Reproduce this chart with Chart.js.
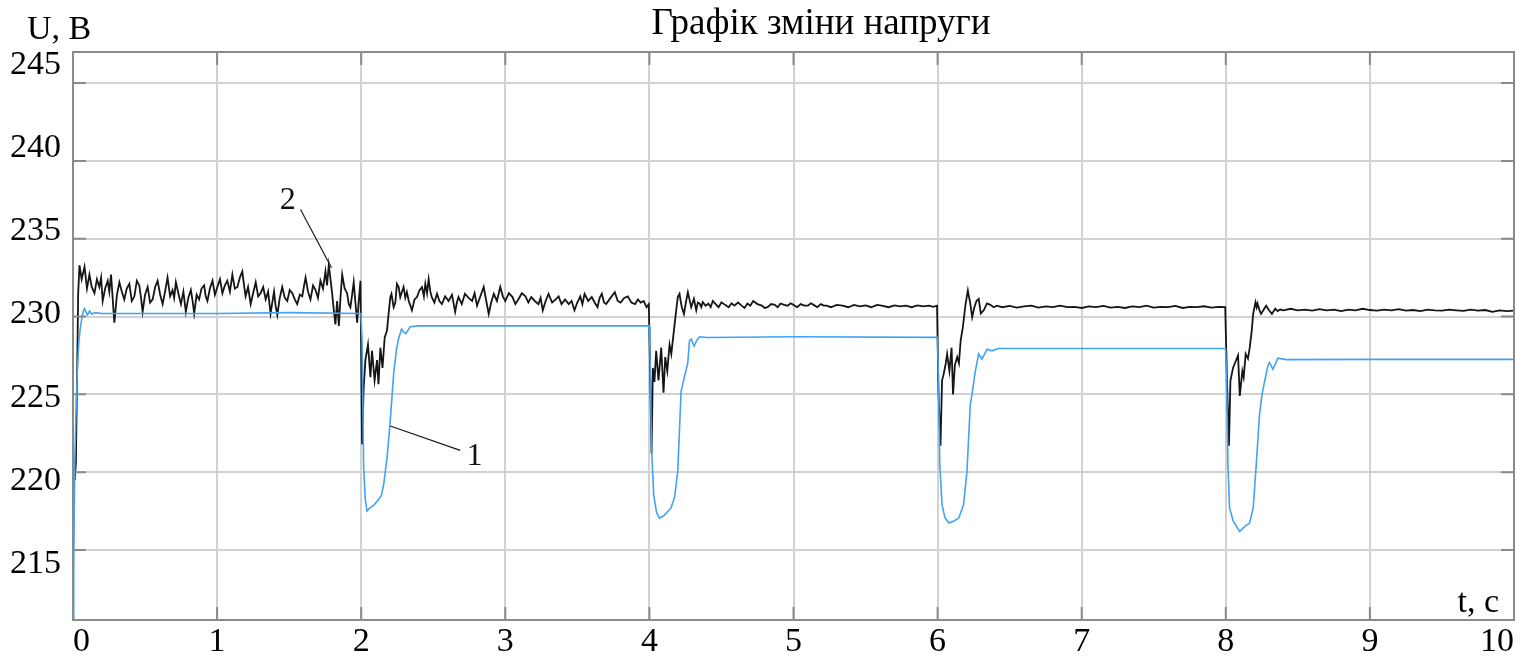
<!DOCTYPE html>
<html>
<head>
<meta charset="utf-8">
<title>Графік зміни напруги</title>
<script src="https://cdn.jsdelivr.net/npm/chart.js@4.4.0/dist/chart.umd.min.js"></script>
<style>
    html, body { margin: 0; padding: 0; background: #ffffff; }
    #wrap { width: 1516px; height: 661px; }
</style>
</head>
<body>
<div id="wrap"><canvas id="voltChart" width="1516" height="661"></canvas></div>
<script>
// Tick values of the axes
var xTicks = [0, 1, 2, 3, 4, 5, 6, 7, 8, 9, 10];
var yTicks = [215, 220, 225, 230, 235, 240, 245];

// Curve 1 (blue) - time, s
var timeBlue = [
    0, 0.005, 0.012, 0.02, 0.03, 0.04, 0.05, 0.06, 0.07, 0.08, 0.09, 0.1, 0.115, 0.13, 0.15, 0.2, 0.5, 1.0, 1.5, 1.998,
    2.006, 2.017, 2.028, 2.04, 2.06, 2.09, 2.12, 2.14, 2.156, 2.18, 2.2, 2.225, 2.245, 2.26, 2.28, 2.295, 2.31, 2.34, 2.4, 3.0, 3.998,
    4.004, 4.015, 4.03, 4.05, 4.07, 4.1, 4.13, 4.15, 4.175, 4.197, 4.22, 4.245, 4.266, 4.278, 4.29, 4.31, 4.33, 4.35, 4.4, 5.0, 5.998,
    6.004, 6.015, 6.031, 6.05, 6.077, 6.11, 6.147, 6.18, 6.204, 6.227, 6.239, 6.26, 6.285, 6.308, 6.343, 6.377, 6.42, 7.0, 7.998,
    8.004, 8.015, 8.026, 8.05, 8.075, 8.096, 8.13, 8.165, 8.19, 8.21, 8.234, 8.25, 8.27, 8.292, 8.303, 8.327, 8.361, 8.42, 9.0, 10
];
// Curve 1 (blue) - voltage, V
var voltBlue = [
    209, 214, 220.5, 223.5, 226.5, 228.3, 229.2, 229.8, 230.3, 230.5, 230.3, 230.1, 230.35, 230.15, 230.25, 230.2, 230.2, 230.2, 230.25, 230.2,
    228.5, 220.3, 218.3, 217.5, 217.7, 217.9, 218.25, 218.5, 219.2, 221.0, 223.1, 226.3, 227.9, 228.6, 229.2, 229.0, 228.9, 229.35, 229.4, 229.4, 229.4,
    228.0, 221.5, 218.5, 217.4, 217.05, 217.2, 217.5, 217.7, 218.4, 220.1, 225.2, 226.2, 227.0, 228.45, 228.55, 228.1, 228.5, 228.7, 228.65, 228.7, 228.66,
    227.0, 220.5, 217.9, 217.1, 216.73, 216.85, 217.05, 217.9, 220.06, 224.37, 225.0, 226.4, 227.6, 227.27, 227.9, 227.8, 227.95, 227.95, 227.95,
    226.5, 220.5, 217.7, 216.9, 216.5, 216.19, 216.5, 216.73, 217.7, 220.3, 223.7, 224.9, 225.87, 226.84, 227.05, 226.6, 227.33, 227.23, 227.25, 227.25
];

// Curve 2 (black) - time, s
var timeBlack = [
    // 0 .. 2
    0.012, 0.02, 0.028, 0.036, 0.045, 0.06, 0.08, 0.097, 0.114, 0.13,
    0.149, 0.166, 0.183, 0.195, 0.206, 0.223, 0.241, 0.252, 0.264, 0.275,
    0.287, 0.305, 0.322, 0.339, 0.356, 0.373, 0.391, 0.408, 0.426, 0.443,
    0.46, 0.472, 0.483, 0.5, 0.518, 0.535, 0.553, 0.57, 0.587, 0.605,
    0.622, 0.639, 0.656, 0.674, 0.691, 0.702, 0.714, 0.731, 0.749, 0.766,
    0.783, 0.8, 0.818, 0.83, 0.841, 0.858, 0.875, 0.892, 0.91, 0.921,
    0.933, 0.95, 0.968, 0.985, 1.002, 1.02, 1.037, 1.054, 1.071, 1.089,
    1.106, 1.123, 1.141, 1.158, 1.175, 1.187, 1.198, 1.215, 1.233, 1.25,
    1.268, 1.285, 1.302, 1.32, 1.337, 1.354, 1.371, 1.383, 1.395, 1.406,
    1.418, 1.435, 1.452, 1.47, 1.487, 1.504, 1.522, 1.539, 1.556, 1.574,
    1.591, 1.602, 1.614, 1.631, 1.648, 1.666, 1.683, 1.7, 1.717, 1.735,
    1.752, 1.763, 1.775, 1.787, 1.798, 1.81, 1.821, 1.833, 1.845, 1.856,
    1.868, 1.885, 1.902, 1.914, 1.925, 1.937, 1.948, 1.96, 1.972, 1.983,
    1.995,
    // 2 .. 4
    2.006, 2.017, 2.029, 2.047, 2.064, 2.075, 2.093, 2.11, 2.12, 2.133,
    2.148, 2.163, 2.179, 2.19, 2.202, 2.21, 2.225, 2.237, 2.248, 2.26,
    2.271, 2.283, 2.294, 2.306, 2.317, 2.33, 2.352, 2.37, 2.387, 2.405,
    2.422, 2.435, 2.445, 2.457, 2.468, 2.48, 2.49, 2.508, 2.526, 2.543,
    2.56, 2.583, 2.606, 2.63, 2.652, 2.664, 2.675, 2.698, 2.72, 2.745,
    2.77, 2.787, 2.804, 2.827, 2.85, 2.868, 2.885, 2.902, 2.92, 2.942,
    2.965, 2.983, 3.0, 3.025, 3.05, 3.07, 3.09, 3.115, 3.14, 3.16,
    3.18, 3.205, 3.23, 3.245, 3.26, 3.28, 3.3, 3.325, 3.35, 3.37,
    3.39, 3.415, 3.44, 3.46, 3.48, 3.5, 3.52, 3.535, 3.55, 3.575,
    3.6, 3.62, 3.64, 3.655, 3.67, 3.685, 3.7, 3.73, 3.76, 3.78,
    3.8, 3.825, 3.85, 3.875, 3.9, 3.92, 3.94, 3.96, 3.98, 3.996,
    // 4 .. 6
    4.005, 4.015, 4.024, 4.035, 4.047, 4.063, 4.082, 4.098, 4.11, 4.124,
    4.14, 4.152, 4.17, 4.186, 4.197, 4.209, 4.217, 4.225, 4.24, 4.255,
    4.267, 4.278, 4.29, 4.309, 4.325, 4.336, 4.348, 4.36, 4.37, 4.39,
    4.41, 4.425, 4.44, 4.46, 4.48, 4.5, 4.525, 4.55, 4.57, 4.59,
    4.615, 4.64, 4.66, 4.68, 4.7, 4.72, 4.75, 4.78, 4.8, 4.82,
    4.845, 4.87, 4.89, 4.91, 4.935, 4.96, 4.98, 5.0, 5.025, 5.05,
    5.075, 5.1, 5.12, 5.14, 5.165, 5.19, 5.21, 5.23, 5.26, 5.3,
    5.34, 5.38, 5.42, 5.46, 5.5, 5.54, 5.58, 5.62, 5.66, 5.7,
    5.74, 5.78, 5.82, 5.86, 5.9, 5.94, 5.97, 5.996,
    // 6 .. 8
    6.006, 6.02, 6.031, 6.042, 6.055, 6.066, 6.082, 6.097, 6.107, 6.12,
    6.136, 6.148, 6.16, 6.175, 6.194, 6.21, 6.217, 6.224, 6.232, 6.24,
    6.255, 6.27, 6.285, 6.3, 6.32, 6.343, 6.366, 6.39, 6.41, 6.45,
    6.5, 6.55, 6.6, 6.65, 6.7, 6.75, 6.8, 6.85, 6.9, 6.95,
    7.0, 7.05, 7.1, 7.15, 7.2, 7.25, 7.3, 7.35, 7.4, 7.45,
    7.5, 7.55, 7.6, 7.65, 7.7, 7.75, 7.8, 7.85, 7.9, 7.95,
    7.996,
    // 8 .. 10
    8.008, 8.022, 8.032, 8.05, 8.07, 8.085, 8.097, 8.115, 8.124, 8.138,
    8.154, 8.166, 8.18, 8.19, 8.206, 8.214, 8.22, 8.234, 8.245, 8.26,
    8.28, 8.3, 8.32, 8.343, 8.36, 8.378, 8.4, 8.45, 8.5, 8.55,
    8.6, 8.65, 8.7, 8.75, 8.8, 8.85, 8.9, 8.95, 9.0, 9.05,
    9.1, 9.15, 9.2, 9.25, 9.3, 9.35, 9.4, 9.45, 9.5, 9.55,
    9.6, 9.65, 9.7, 9.75, 9.8, 9.85, 9.9, 9.95, 10
];
// Curve 2 (black) - voltage, V
var voltBlack = [
    // 0 .. 2
    219.5, 220.6, 226, 231.5, 233.3, 232.4, 233.2, 231.8, 232.7, 231.9,
    231.5, 232.4, 231.9, 232.5, 231.0, 231.8, 232.3, 231.6, 232.7, 231.2,
    229.6, 231.4, 232.2, 231.6, 231.1, 231.8, 232.1, 231.0, 231.3, 232.3,
    232.0, 231.2, 230.3, 231.4, 231.9, 230.9, 231.1, 231.9, 232.3, 231.4,
    230.8, 231.6, 232.5, 231.3, 231.7, 231.2, 232.2, 231.5, 230.8, 231.6,
    230.3, 231.2, 231.7, 231.0, 230.2, 231.4, 231.1, 231.8, 232.0, 231.3,
    231.0, 231.8, 232.3, 231.4, 231.9, 232.4, 231.5, 232.0, 232.3, 231.6,
    232.7, 231.8, 231.9, 232.5, 232.9, 232.0, 231.3, 231.9, 230.8, 231.5,
    232.2, 231.3, 231.5, 231.9, 231.1, 231.6, 230.2, 230.9, 231.6, 230.7,
    230.1, 231.2, 231.9, 231.2, 231.0, 231.7, 231.5, 231.1, 230.8, 231.4,
    231.3, 231.9, 232.5, 231.6, 231.1, 232.0, 231.7, 231.2, 232.3, 231.8,
    232.9, 232.0, 233.3, 232.4, 231.5, 230.4, 229.5, 231.0, 229.4, 231.2,
    232.7, 231.8, 231.5, 230.8, 230.6, 231.4, 232.2, 230.9, 229.6, 231.0,
    232.3,
    // 2 .. 4
    221.8, 225.4, 227.2, 228.2, 226.1, 227.8, 225.9, 227.2, 225.65, 228.0,
    226.7, 228.66, 229.1, 230.17, 231.25, 231.46, 230.6, 230.9, 232.1, 231.9,
    231.25, 231.6, 231.9, 231.2, 231.57, 231.0, 230.4, 231.1, 231.25, 231.7,
    231.9, 231.3, 232.1, 231.5, 232.4, 231.6, 231.25, 230.9, 231.46, 231.0,
    230.8, 231.3, 231.0, 231.4, 230.3, 230.9, 231.25, 230.8, 231.46, 231.2,
    231.0, 231.5, 230.7, 231.3, 231.9, 231.0, 230.17, 230.9, 231.46, 231.0,
    231.9, 231.3, 231.0, 231.5, 231.25, 230.8, 231.1, 231.5, 231.3, 230.9,
    231.25, 231.0, 230.8, 231.2, 230.4, 231.0, 231.46, 230.9, 231.1, 231.3,
    230.8, 231.1, 230.8, 231.0, 230.4, 230.9, 231.3, 230.8, 231.46, 231.0,
    231.25, 230.9, 230.6, 231.2, 231.46, 230.9, 230.8, 231.2, 231.57, 231.0,
    230.9, 231.2, 231.3, 230.9, 230.8, 231.1, 230.9, 231.0, 230.6, 230.8,
    // 4 .. 6
    226.5, 221.2, 226.7, 225.8, 227.8, 225.9, 228.0, 225.1, 227.4, 226.5,
    228.2, 227.6, 229.1, 230.4, 231.25, 231.46, 231.0, 230.6, 230.17, 231.0,
    231.57, 231.1, 230.6, 231.14, 230.4, 230.9, 230.84, 230.6, 230.92, 230.7,
    230.84, 230.6, 231.0, 230.8, 230.6, 230.92, 230.75, 230.6, 230.85, 230.7,
    230.9, 230.7, 230.55, 230.84, 230.7, 231.0, 230.8, 230.7, 230.55, 230.6,
    230.8, 230.75, 230.6, 230.84, 230.75, 230.7, 230.85, 230.75, 230.6, 230.8,
    230.7, 230.7, 230.85, 230.75, 230.6, 230.8, 230.7, 230.7, 230.6, 230.75,
    230.7, 230.6, 230.75, 230.65, 230.72, 230.6, 230.75, 230.68, 230.6, 230.72,
    230.65, 230.7, 230.6, 230.72, 230.65, 230.7, 230.62, 230.7,
    // 6 .. 8
    225.2, 221.7, 225.9, 226.3, 226.9, 227.6, 226.5, 228.0, 225.0, 226.9,
    227.4, 227.0, 228.45, 229.3, 230.8, 231.68, 231.3, 231.0, 230.5, 229.96,
    230.6, 231.0, 231.14, 230.2, 230.4, 230.84, 230.75, 230.6, 230.7, 230.6,
    230.68, 230.58, 230.65, 230.7, 230.58, 230.65, 230.6, 230.7, 230.6, 230.62,
    230.55, 230.65, 230.6, 230.68, 230.58, 230.62, 230.55, 230.65, 230.6, 230.7,
    230.58, 230.62, 230.6, 230.68, 230.55, 230.62, 230.6, 230.66, 230.58, 230.62,
    230.6,
    // 8 .. 10
    226.0, 221.7, 225.87, 226.7, 227.16, 227.5, 224.9, 226.5, 226.1, 227.6,
    227.3, 228.0, 229.1, 230.17, 230.92, 230.6, 230.84, 230.4, 230.17, 230.4,
    230.7, 230.4, 230.17, 230.5, 230.35, 230.45, 230.4, 230.5, 230.4, 230.45,
    230.38, 230.48, 230.4, 230.45, 230.35, 230.45, 230.4, 230.5, 230.42, 230.38,
    230.45, 230.4, 230.48, 230.38, 230.42, 230.35, 230.45, 230.4, 230.38, 230.45,
    230.4, 230.36, 230.44, 230.38, 230.42, 230.3, 230.4, 230.35, 230.38
];

// Curve labels "1" and "2" with their leader lines (in data units: t, U)
var curveLabels = [
    { text: '1', at: [2.786, 220.97], from: [2.687, 221.4], to: [2.202, 222.97] },
    { text: '2', at: [1.491, 237.48], from: [1.579, 236.88], to: [1.794, 233.14] }
];

var FONT = '"Liberation Serif", "Times New Roman", serif';

function toPoints(times, volts) {
    return times.map(function (t, i) { return { x: t, y: volts[i] }; });
}

// Frame, inward ticks, y labels, titles and curve labels
var framePlugin = {
    id: 'frame',
    afterDatasetsDraw: function (chart) {
        var ctx = chart.ctx;
        var a = chart.chartArea;
        var xs = chart.scales.x, ys = chart.scales.y;
        ctx.save();
        ctx.strokeStyle = '#8a8a8a';
        ctx.lineWidth = 2;
        ctx.strokeRect(a.left, a.top, a.right - a.left, a.bottom - a.top);
        ctx.beginPath();
        xTicks.forEach(function (v) {
            var px = xs.getPixelForValue(v);
            ctx.moveTo(px, a.bottom); ctx.lineTo(px, a.bottom - 13);
            ctx.moveTo(px, a.top); ctx.lineTo(px, a.top + 13);
        });
        yTicks.forEach(function (v) {
            var py = ys.getPixelForValue(v);
            ctx.moveTo(a.left, py); ctx.lineTo(a.left + 13, py);
            ctx.moveTo(a.right, py); ctx.lineTo(a.right - 13, py);
        });
        ctx.stroke();

        // curve labels
        ctx.strokeStyle = '#1a1a1a';
        ctx.lineWidth = 1.2;
        ctx.fillStyle = '#111111';
        ctx.font = '32px ' + FONT;
        ctx.textAlign = 'center';
        ctx.textBaseline = 'middle';
        curveLabels.forEach(function (c) {
            ctx.beginPath();
            ctx.moveTo(xs.getPixelForValue(c.from[0]), ys.getPixelForValue(c.from[1]));
            ctx.lineTo(xs.getPixelForValue(c.to[0]), ys.getPixelForValue(c.to[1]));
            ctx.stroke();
            ctx.fillText(c.text, xs.getPixelForValue(c.at[0]), ys.getPixelForValue(c.at[1]));
        });
        ctx.restore();
    },
    afterDraw: function (chart) {
        var ctx = chart.ctx;
        var a = chart.chartArea;
        var ys = chart.scales.y;
        ctx.save();
        ctx.fillStyle = '#000000';
        ctx.font = '34px ' + FONT;

        // y tick labels (spread a little, as on the original)
        ctx.textAlign = 'right';
        ctx.textBaseline = 'middle';
        yTicks.forEach(function (v) {
            ctx.fillText(String(v), a.left - 12, ys.getPixelForValue(v) - (v - 230) * 1.1 - 2);
        });

        ctx.textAlign = 'left';
        ctx.textBaseline = 'alphabetic';
        ctx.fillText('U, B', 27, 39);

        ctx.textAlign = 'right';
        ctx.fillText('t, c', a.right - 15, a.bottom - 8);

        ctx.textAlign = 'center';
        ctx.font = '37px ' + FONT;
        ctx.fillText('Графік зміни напруги', 821, 34);
        ctx.restore();
    }
};

var ctx = document.getElementById('voltChart').getContext('2d');
var voltChart = new Chart(ctx, {
    type: 'line',
    data: {
        datasets: [{
            label: '1',
            data: toPoints(timeBlue, voltBlue),
            borderColor: '#42a2f4',
            borderWidth: 1.6,
            pointRadius: 0,
            tension: 0,
            fill: false
        }, {
            label: '2',
            data: toPoints(timeBlack, voltBlack),
            borderColor: '#151515',
            borderWidth: 1.8,
            pointRadius: 0,
            tension: 0,
            fill: false
        }]
    },
    options: {
        responsive: false,
        animation: false,
        devicePixelRatio: 1,
        layout: { padding: { top: 52, right: 1, left: 0, bottom: 0 } },
        plugins: {
            legend: { display: false },
            title: { display: false },
            tooltip: { enabled: false }
        },
        scales: {
            x: {
                type: 'linear',
                min: 0,
                max: 10,
                afterFit: function (scale) { scale.height = 41; },
                afterBuildTicks: function (scale) {
                    scale.ticks = xTicks.map(function (v) { return { value: v }; });
                },
                ticks: {
                    font: { family: FONT, size: 34 },
                    color: '#000000',
                    align: 'inner',
                    padding: 2,
                    maxRotation: 0,
                    autoSkip: false
                },
                grid: { color: '#d2d2d2', lineWidth: 2, drawTicks: false },
                border: { display: false }
            },
            y: {
                type: 'linear',
                min: 210.5,
                max: 247,
                afterFit: function (scale) { scale.width = 73; },
                afterBuildTicks: function (scale) {
                    scale.ticks = yTicks.map(function (v) { return { value: v }; });
                },
                ticks: { display: false },
                grid: { color: '#d2d2d2', lineWidth: 2, drawTicks: false },
                border: { display: false }
            }
        }
    },
    plugins: [framePlugin]
});
</script>
</body>
</html>
